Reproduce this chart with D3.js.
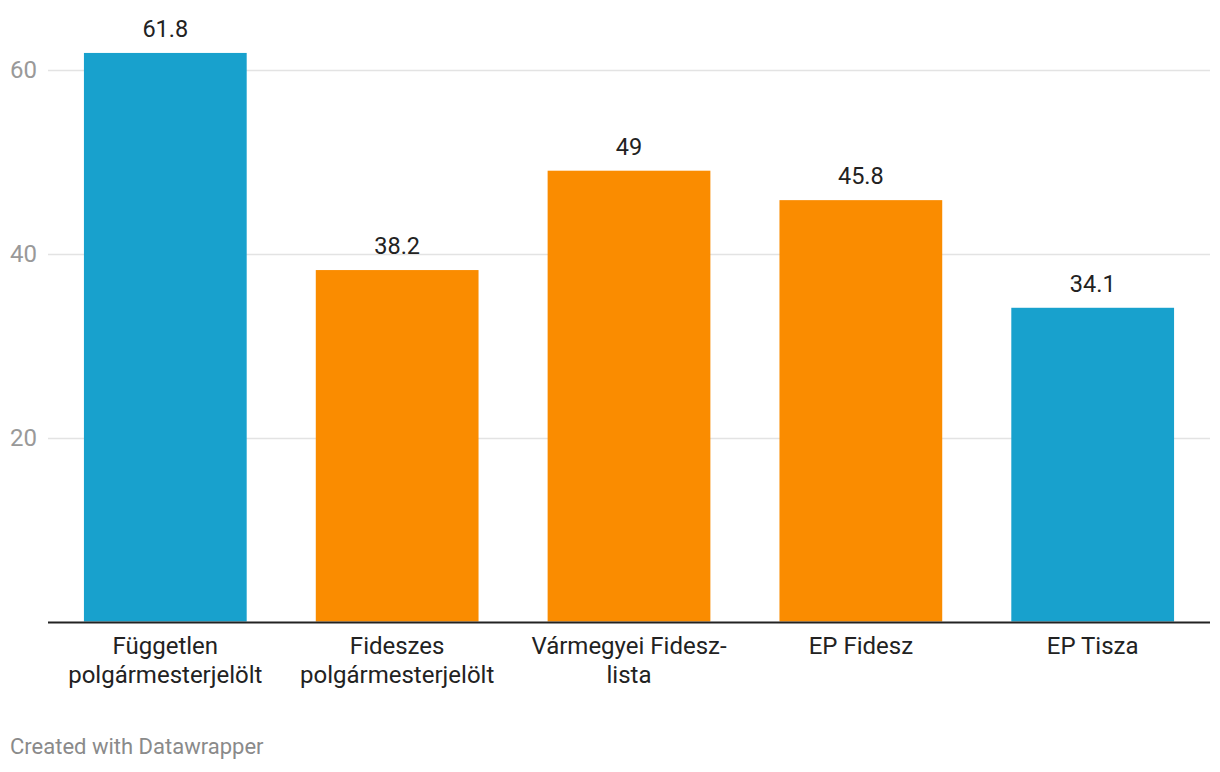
<!DOCTYPE html>
<html>
<head>
<meta charset="utf-8">
<script src="https://cdn.jsdelivr.net/npm/d3@7"></script>
<style>
  body { margin: 0; background: #fff; font-family: Roboto, sans-serif; }
  svg text { font-family: Roboto, sans-serif; }
</style>
</head>
<body>
<div id="chart"></div>
<script>
// Data
const categories = [
    ["Független", "polgármesterjelölt"],
    ["Fideszes", "polgármesterjelölt"],
    ["Vármegyei Fidesz-", "lista"],
    ["EP Fidesz"],
    ["EP Tisza"]
];
const values = [61.8, 38.2, 49, 45.8, 34.1];
const barColors = ["#18a1cd", "#fa8c00", "#fa8c00", "#fa8c00", "#18a1cd"];
const yTicks = [20, 40, 60];

const width = 1220, height = 772;
const left = 48, right = 1210, baseY = 621.5, topY = 69.5;

const svg = d3.select("#chart").append("svg")
    .attr("width", width)
    .attr("height", height);

const x = d3.scaleBand()
    .domain(d3.range(values.length))
    .range([left, right])
    .paddingInner(0.298)
    .paddingOuter(0.155);

const y = d3.scaleLinear()
    .domain([0, 60])
    .range([baseY, topY]);

// Gridlines
svg.append("g")
    .selectAll("line")
    .data(yTicks)
    .join("line")
      .attr("x1", left)
      .attr("x2", right)
      .attr("y1", d => Math.round(y(d)) + 0.5)
      .attr("y2", d => Math.round(y(d)) + 0.5)
      .attr("stroke", "#e3e3e3")
      .attr("stroke-width", 1.5);

// Tick labels
svg.append("g")
    .selectAll("text")
    .data(yTicks)
    .join("text")
      .attr("x", 10)
      .attr("y", d => y(d))
      .attr("dy", "0.35em")
      .attr("fill", "#999")
      .attr("font-size", 24)
      .text(d => d);

// Bars
svg.append("g")
    .selectAll("rect")
    .data(values)
    .join("rect")
      .attr("x", (d, i) => x(i))
      .attr("y", d => y(d))
      .attr("width", x.bandwidth())
      .attr("height", d => y(0) - y(d))
      .attr("fill", (d, i) => barColors[i]);

// Value labels
svg.append("g")
    .selectAll("text")
    .data(values)
    .join("text")
      .attr("x", (d, i) => x(i) + x.bandwidth() / 2)
      .attr("y", d => y(d) - 16)
      .attr("text-anchor", "middle")
      .attr("fill", "#222")
      .attr("font-size", 23.5)
      .text(d => d);

// Baseline
svg.append("line")
    .attr("x1", left)
    .attr("x2", right)
    .attr("y1", baseY + 1)
    .attr("y2", baseY + 1)
    .attr("stroke", "#222")
    .attr("stroke-width", 2);

// Category labels
const cat = svg.append("g")
    .selectAll("text")
    .data(categories)
    .join("text")
      .attr("x", (d, i) => x(i) + x.bandwidth() / 2)
      .attr("y", 653.5)
      .attr("text-anchor", "middle")
      .attr("fill", "#222")
      .attr("font-size", 24);
cat.selectAll("tspan")
    .data(d => d)
    .join("tspan")
      .attr("x", function() { return d3.select(this.parentNode).attr("x"); })
      .attr("dy", (d, i) => i === 0 ? 0 : 29)
      .text(d => d);

// Footer
svg.append("text")
    .attr("x", 10)
    .attr("y", 753.5)
    .attr("fill", "#8a8a8a")
    .attr("font-size", 22)
    .text("Created with Datawrapper");
</script>
</body>
</html>
